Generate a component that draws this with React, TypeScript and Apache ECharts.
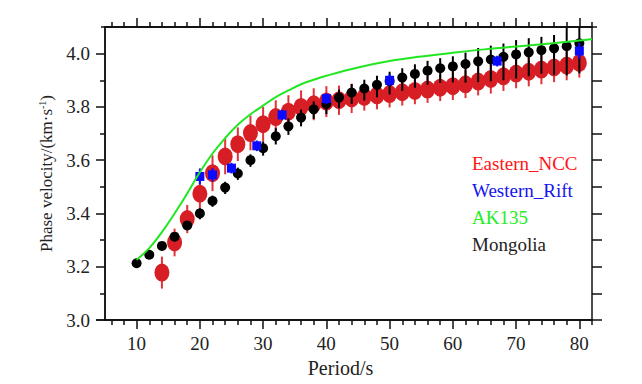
import React, { useEffect, useRef } from "react";
import * as echarts from "echarts";

// ---------- data ----------
const eastPeriods = [14, 16, 18, 20, 22, 24, 26, 28, 30, 32, 34, 36, 38, 40, 42, 44, 46, 48, 50, 52, 54, 56, 58, 60, 62, 64, 66, 68, 70, 72, 74, 76, 78, 80];
const eastVel = [3.178, 3.291, 3.379, 3.474, 3.551, 3.614, 3.66, 3.702, 3.735, 3.762, 3.782, 3.8, 3.81, 3.82, 3.825, 3.832, 3.838, 3.843, 3.848, 3.855, 3.86, 3.865, 3.872, 3.878, 3.885, 3.895, 3.905, 3.915, 3.925, 3.932, 3.94, 3.948, 3.955, 3.965];
const eastErr = [0.06, 0.052, 0.053, 0.055, 0.067, 0.067, 0.063, 0.065, 0.065, 0.063, 0.062, 0.062, 0.06, 0.058, 0.055, 0.055, 0.052, 0.052, 0.05, 0.05, 0.05, 0.05, 0.05, 0.052, 0.052, 0.052, 0.055, 0.055, 0.055, 0.055, 0.055, 0.055, 0.055, 0.055];

const mongPeriods = [10, 12, 14, 16, 18, 20, 22, 24, 26, 28, 30, 32, 34, 36, 38, 40, 42, 44, 46, 48, 50, 52, 54, 56, 58, 60, 62, 64, 66, 68, 70, 72, 74, 76, 78, 80];
const mongVel = [3.213, 3.245, 3.278, 3.313, 3.355, 3.4, 3.447, 3.497, 3.55, 3.6, 3.645, 3.69, 3.727, 3.76, 3.791, 3.811, 3.835, 3.854, 3.869, 3.883, 3.897, 3.91, 3.924, 3.936, 3.945, 3.952, 3.961, 3.971, 3.978, 3.988, 3.997, 4.005, 4.013, 4.02, 4.028, 4.039];
const mongErrUp = [0.01, 0.01, 0.012, 0.012, 0.015, 0.02, 0.02, 0.022, 0.022, 0.022, 0.025, 0.03, 0.03, 0.03, 0.03, 0.03, 0.03, 0.032, 0.033, 0.034, 0.035, 0.035, 0.036, 0.037, 0.038, 0.038, 0.043, 0.05, 0.052, 0.05, 0.054, 0.053, 0.05, 0.05, 0.08, 0.08];
const mongErrDown = [0.01, 0.01, 0.012, 0.012, 0.015, 0.022, 0.022, 0.024, 0.024, 0.025, 0.028, 0.031, 0.032, 0.033, 0.036, 0.038, 0.04, 0.043, 0.045, 0.047, 0.05, 0.05, 0.052, 0.053, 0.055, 0.06, 0.07, 0.078, 0.082, 0.088, 0.09, 0.09, 0.088, 0.1, 0.11, 0.113];

const westPeriods = [20, 22, 25, 29, 33, 40, 50, 67, 80];
const westVel = [3.539, 3.545, 3.57, 3.654, 3.77, 3.831, 3.9, 3.972, 4.01];
const westErr = [0.03, 0.025, 0.02, 0.02, 0.02, 0.02, 0.022, 0.02, 0.03];

const akPeriods = [10, 12, 14, 16, 18, 20, 22, 24, 26, 28, 30, 32, 34, 36, 38, 40, 45, 50, 55, 60, 65, 70, 75, 80, 82];
const akVel = [3.226, 3.27, 3.33, 3.4, 3.475, 3.555, 3.625, 3.683, 3.733, 3.772, 3.805, 3.837, 3.862, 3.885, 3.902, 3.917, 3.948, 3.972, 3.989, 4.003, 4.016, 4.027, 4.037, 4.049, 4.055];

const xMajorTicks = [10, 20, 30, 40, 50, 60, 70, 80];
const xMinorTicks = [6, 8, 12, 14, 16, 18, 22, 24, 26, 28, 32, 34, 36, 38, 42, 44, 46, 48, 52, 54, 56, 58, 62, 64, 66, 68, 72, 74, 76, 78, 82];
const yMajorTicks = [3.0, 3.2, 3.4, 3.6, 3.8, 4.0];
const yMinorTicks = [3.1, 3.3, 3.5, 3.7, 3.9];
const yRightTicks = [3.1, 3.2, 3.3, 3.4, 3.5, 3.6, 3.7, 3.8, 3.9, 4.0];

const seriesNames = ["Eastern_NCC", "Western_Rift", "AK135", "Mongolia"];

// ---------- styles ----------
const FONT = "Liberation Serif";
const TEXT = "#222";
const AXIS = "#111";
const RED = "#d71e24";
const RED_BAR = "#e0343a";
const BLUE = "#0a0aff";
const GREEN = "#22e622";
const BLACK = "#000";

const X_MIN = 5;
const X_MAX = 82;
const Y_MIN = 3.0;
const Y_MAX = 4.1;

function errorBars(name: string, xs: number[], lows: number[], highs: number[], color: string, width: number, z: number) {
  return {
    type: "custom",
    name,
    xAxisIndex: 0,
    yAxisIndex: 0,
    z,
    silent: true,
    clip: true,
    encode: { x: 0, y: [1, 2] },
    data: xs.map((x, i) => [x, lows[i], highs[i]]),
    renderItem: (_params: any, api: any) => {
      const p1 = api.coord([api.value(0), api.value(1)]);
      const p2 = api.coord([api.value(0), api.value(2)]);
      return {
        type: "line",
        shape: { x1: p1[0], y1: p1[1], x2: p2[0], y2: p2[1] },
        style: { stroke: color, lineWidth: width },
      };
    },
  };
}

function xAxisDef(position: "top" | "bottom", ticks: number[], len: number, labels: boolean, named: boolean) {
  return {
    type: "value",
    position,
    min: X_MIN,
    max: X_MAX,
    name: named ? "Period/s" : "",
    nameLocation: "middle",
    nameGap: 32,
    nameTextStyle: { fontFamily: FONT, fontSize: 20, color: TEXT, padding: [0, 16, 0, 0] },
    axisLine: { show: true, onZero: false, lineStyle: { color: AXIS, width: 1.5 } },
    axisTick: { show: true, inside: false, length: len, customValues: ticks, lineStyle: { color: AXIS, width: 1.5 } },
    axisLabel: {
      show: labels,
      customValues: xMajorTicks,
      margin: 14,
      fontFamily: FONT,
      fontSize: 19,
      color: TEXT,
    },
    splitLine: { show: false },
  };
}

function yAxisDef(position: "left" | "right", ticks: number[], len: number, labels: boolean, named: boolean) {
  return {
    type: "value",
    position,
    min: Y_MIN,
    max: Y_MAX,
    name: named ? "Phase velocity/(km·s{sup|-1})" : "",
    nameLocation: "middle",
    nameGap: 50,
    nameTextStyle: {
      fontFamily: FONT,
      fontSize: 17,
      color: TEXT,
      rich: {
        sup: { fontFamily: FONT, fontSize: 10, color: TEXT, verticalAlign: "top", padding: [0, 0, 8, 0] },
      },
    },
    axisLine: { show: true, onZero: false, lineStyle: { color: AXIS, width: 1.5 } },
    axisTick: { show: true, inside: false, length: len, customValues: ticks, lineStyle: { color: AXIS, width: 1.5 } },
    axisLabel: {
      show: labels,
      customValues: yMajorTicks,
      margin: 15,
      fontFamily: FONT,
      fontSize: 19,
      color: TEXT,
      formatter: (v: number) => v.toFixed(1),
    },
    splitLine: { show: false },
  };
}

export default function App() {
  const ref = useRef<HTMLDivElement>(null);

  useEffect(() => {
    document.body.style.margin = "0";
    if (!ref.current) return;
    const chart = echarts.init(ref.current, undefined, { renderer: "svg" });

    const eastLow = eastVel.map((v, i) => v - eastErr[i]);
    const eastHigh = eastVel.map((v, i) => v + eastErr[i]);
    const mongLow = mongVel.map((v, i) => v - mongErrDown[i]);
    const mongHigh = mongVel.map((v, i) => v + mongErrUp[i]);
    const westLow = westVel.map((v, i) => v - westErr[i]);
    const westHigh = westVel.map((v, i) => v + westErr[i]);

    const option: any = {
      animation: false,
      backgroundColor: "#fff",
      grid: { left: 105, right: 50, top: 27, bottom: 64, containLabel: false },
      legend: {
        orient: "vertical",
        left: 462,
        top: 149,
        padding: 5,
        icon: "none",
        itemWidth: 0,
        itemHeight: 14,
        itemGap: 8,
        selectedMode: false,
        textStyle: { fontFamily: FONT, fontSize: 19 },
        data: [
          { name: seriesNames[0], textStyle: { color: "#ff1414" } },
          { name: seriesNames[1], textStyle: { color: "#1414f0" } },
          { name: seriesNames[2], textStyle: { color: "#22ee22" } },
          { name: seriesNames[3], textStyle: { color: "#222" } },
        ],
      },
      xAxis: [
        xAxisDef("bottom", xMajorTicks, 9, true, true),
        xAxisDef("bottom", xMinorTicks, 5, false, false),
        xAxisDef("top", xMajorTicks, 9, false, false),
        xAxisDef("top", xMinorTicks, 5, false, false),
      ],
      yAxis: [
        yAxisDef("left", yMajorTicks, 9, true, true),
        yAxisDef("left", yMinorTicks, 5, false, false),
        yAxisDef("right", yRightTicks, 10, false, false),
      ],
      graphic: [
        { type: "line", shape: { x1: 96, y1: 320, x2: 602, y2: 320 }, style: { stroke: AXIS, lineWidth: 1.5 }, z: 10 },
        { type: "line", shape: { x1: 101, y1: 27, x2: 597, y2: 27 }, style: { stroke: AXIS, lineWidth: 1.5 }, z: 10 },
      ],
      series: [
        errorBars("Eastern_NCC_err", eastPeriods, eastLow, eastHigh, RED_BAR, 2, 2),
        {
          type: "scatter",
          name: seriesNames[0],
          z: 3,
          symbol: "path://M0,10 A10,10 0 1,1 20,10 A10,10 0 1,1 0,10 Z",
          symbolSize: [15, 18],
          itemStyle: { color: RED, opacity: 1 },
          data: eastPeriods.map((x, i) => [x, eastVel[i]]),
        },
        errorBars("Mongolia_err", mongPeriods, mongLow, mongHigh, BLACK, 2, 4),
        {
          type: "scatter",
          name: seriesNames[3],
          z: 5,
          symbol: "circle",
          symbolSize: 10,
          itemStyle: { color: BLACK, opacity: 1 },
          data: mongPeriods.map((x, i) => [x, mongVel[i]]),
        },
        errorBars("Western_Rift_err", westPeriods, westLow, westHigh, BLUE, 2, 6),
        {
          type: "scatter",
          name: seriesNames[1],
          z: 7,
          symbol: "rect",
          symbolSize: 9,
          itemStyle: { color: BLUE, opacity: 1 },
          data: westPeriods.map((x, i) => [x, westVel[i]]),
        },
        {
          type: "line",
          name: seriesNames[2],
          z: 8,
          smooth: 0.4,
          showSymbol: false,
          symbol: "none",
          clip: true,
          lineStyle: { color: GREEN, width: 2 },
          itemStyle: { color: GREEN },
          data: akPeriods.map((x, i) => [x, akVel[i]]),
        },
      ],
    };

    chart.setOption(option);
    return () => chart.dispose();
  }, []);

  return <div ref={ref} style={{ width: 642, height: 384 }} />;
}
